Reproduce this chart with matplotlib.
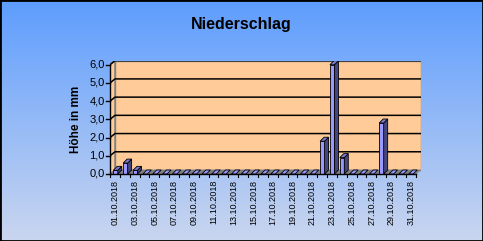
import numpy as np
import matplotlib.pyplot as plt
from matplotlib.patches import Polygon
from matplotlib.colors import LinearSegmentedColormap

plt.rcParams['font.family'] = ['Liberation Sans', 'DejaVu Sans']

# Daten: Niederschlag Oktober 2018
days = [f"{d:02d}.10.2018" for d in range(1, 32)]
values = [0.2, 0.6, 0.2, 0, 0, 0, 0, 0, 0, 0,
          0, 0, 0, 0, 0, 0, 0, 0, 0, 0,
          0, 1.8, 6.0, 0.9, 0, 0, 0, 2.8, 0, 0, 0]
yticks = [0, 1, 2, 3, 4, 5, 6]
ytick_labels = ["0,0", "1,0", "2,0", "3,0", "4,0", "5,0", "6,0"]

fig = plt.figure(figsize=(4.83, 2.41), dpi=100)

# Hintergrund-Verlauf
bg = fig.add_axes([0, 0, 1, 1], zorder=-10)
cmap = LinearSegmentedColormap.from_list("bg", ["#5d9dfe", "#cad6ef"])
bg.imshow(np.linspace(0, 1, 256).reshape(-1, 1), aspect="auto", cmap=cmap,
          extent=[0, 1, 0, 1])
bg.set_xlim(0, 1)
bg.set_ylim(0, 1)
bg.axis("off")
bg.add_patch(plt.Rectangle((0, 0), 1, 1, fill=False, ec="black", lw=2,
                           transform=bg.transAxes, clip_on=False))

ax = fig.add_axes([110 / 483, 67 / 241, 310.7 / 483, 113.3 / 241])
ax.axis("off")

# 3D-Versatz in Datenkoordinaten
px_x = 9.85          # Pixel pro Kategorie
px_y = 18.17         # Pixel pro mm
dx = 5 / px_x
dy = 4 / px_y
x0 = -0.56
x1 = 30.48
ymax = 6
ax.set_xlim(x0, x1 + dx)
ax.set_ylim(0, ymax + dy)

wall = "#ffcc99"
# linke Wand
ax.add_patch(Polygon([(x0, 0), (x0, ymax), (x0 + dx, ymax + dy), (x0 + dx, dy)],
                     fc=wall, ec="#808080", lw=1, zorder=1))
# Rueckwand
ax.add_patch(Polygon([(x0 + dx, dy), (x0 + dx, ymax + dy), (x1 + dx, ymax + dy), (x1 + dx, dy)],
                     fc=wall, ec="#808080", lw=1, zorder=1))
# Boden
ax.add_patch(Polygon([(x0, 0), (x1, 0), (x1 + dx, dy), (x0 + dx, dy)],
                     fc="#808080", ec="#808080", lw=0.5, zorder=2))
# Gitternetz
for t in yticks[1:]:
    ax.plot([x0, x0 + dx, x1 + dx], [t, t + dy, t + dy], color="black", lw=1.1, zorder=2)

# Saeulen
w = 4.5 / px_x
bdx = 4 / px_x
bdy = 4 / px_y
front_c, side_c, top_c = "#9999ff", "#45457f", "#7a7acc"
for i, v in enumerate(values):
    l, r = i - w / 2, i + w / 2
    z = 5 + i * 0.01
    if v > 0:
        ax.add_patch(Polygon([(l, 0), (r, 0), (r, v), (l, v)],
                             fc=front_c, ec="black", lw=0.6, zorder=z))
        ax.add_patch(Polygon([(r, 0), (r + bdx, bdy), (r + bdx, v + bdy), (r, v)],
                             fc=side_c, ec="black", lw=0.6, zorder=z))
    ax.add_patch(Polygon([(l, v), (r, v), (r + bdx, v + bdy), (l + bdx, v + bdy)],
                         fc=top_c if v > 0 else front_c, ec="black", lw=0.6, zorder=z))

# Achsen
ax.plot([x0, x0], [0, ymax], color="black", lw=1, zorder=10, clip_on=False)
ax.plot([x0, x1], [0, 0], color="black", lw=1, zorder=10, clip_on=False)
tick_len = 4 / px_x
for t, lab in zip(yticks, ytick_labels):
    ax.plot([x0 - tick_len, x0], [t, t], color="black", lw=1, clip_on=False)
    ax.text(x0 - tick_len - 0.15, t, lab, ha="right", va="center", fontsize=8)
for k in range(len(days) + 1):
    xb = x0 + k * (x1 - x0) / len(days)
    ax.plot([xb, xb], [0, -3 / px_y], color="black", lw=0.8, clip_on=False)
for i in range(0, len(days), 2):
    ax.text(i, -6 / px_y, days[i], rotation=90, ha="center", va="top", fontsize=6.5)

ax.text(x0 - 3.5, 3.0, "Höhe in mm", rotation=90, ha="center", va="center",
        fontsize=8.5, fontweight="bold")
fig.text(0.5, 1 - 24 / 241, "Niederschlag", ha="center", va="center",
         fontsize=11.5, fontweight="bold")

fig.savefig("out.png", dpi=100)
